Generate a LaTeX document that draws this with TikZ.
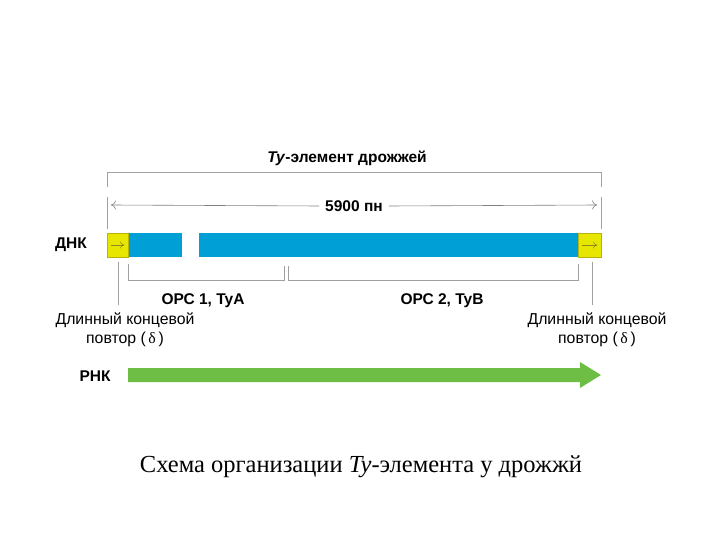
\documentclass[tikz,border=0pt]{standalone}
\usepackage{fontspec}
\setmainfont{Liberation Serif}
\newfontfamily\sansf{Liberation Sans}
\usetikzlibrary{arrows.meta,shapes.arrows}
\definecolor{dnablue}{RGB}{0,160,214}
\definecolor{ltryel}{RGB}{230,230,0}
\definecolor{rnagreen}{RGB}{110,190,70}
\definecolor{linegray}{RGB}{160,160,160}
\tikzset{
  lbl/.style={font=\sansf\fontsize{15.5}{18}\selectfont\bfseries, inner sep=0pt},
  reglbl/.style={font=\sansf\fontsize{15.8}{18}\selectfont, inner sep=0pt, align=center},
  gline/.style={draw=linegray, line width=1pt},
  thin/.style={draw=gray, line width=0.6pt},
  seg/.style={inner sep=0pt, outer sep=0pt, minimum height=24pt, anchor=west},
}
\begin{document}
\begin{tikzpicture}[x=1pt,y=-1pt]
\useasboundingbox (0,0) rectangle (720,540);
% title
\node[lbl] (title) at (347,158) {\textit{Ty}-элемент дрожжей};
% top bracket
\coordinate (bl) at (107,187);
\coordinate (br) at (601,187);
\draw[gline] (bl) -- (107,173) -- (601,173) -- (br);
\coordinate (el1) at (107,197);
\coordinate (el2) at (107,229);
\coordinate (er1) at (601,197);
\coordinate (er2) at (601,229);
\draw[gline] (el1) -- (el2);
\draw[gline] (er1) -- (er2);
% dimension
\node[lbl, fill=white, inner xsep=6pt] (dim) at (354,206) {5900 пн};
\coordinate (dl) at (111,205);
\coordinate (dr) at (597,205);
\draw[thin, -{To[length=5pt,width=9pt]}] (dim.west) -- (dl);
\draw[thin, -{To[length=5pt,width=9pt]}] (dim.east) -- (dr);
% DNA bar
\node[lbl] (dnk) at (71,245) {ДНК};
\node[seg, fill=ltryel, minimum width=21pt] (ltr1) at (107,245) {};
\node[seg, fill=dnablue, minimum width=54pt] (b1) at (128,245) {};
\node[seg, fill=white, minimum width=17pt] (gap) at (182,245) {};
\node[seg, fill=dnablue, minimum width=379pt] (b2) at (199,245) {};
\node[seg, fill=ltryel, minimum width=23pt] (ltr2) at (578,245) {};
\draw[draw=olive!50!ltryel, line width=0.5pt] (ltr1.north west) rectangle (ltr1.south east);
\draw[draw=olive!50!ltryel, line width=0.5pt] (ltr2.north west) rectangle (ltr2.south east);
\draw[draw=olive!80!gray, line width=0.5pt, -{To[length=4pt,width=7pt]}] ([xshift=4pt]ltr1.west) -- ([xshift=-4pt]ltr1.east);
\draw[draw=olive!80!gray, line width=0.5pt, -{To[length=4pt,width=7pt]}] ([xshift=4pt]ltr2.west) -- ([xshift=-4pt]ltr2.east);
% LTR leader lines
\coordinate (l1a) at (118,262);
\coordinate (l1b) at (118,305);
\coordinate (l2a) at (592,262);
\coordinate (l2b) at (592,305);
\draw[gline] (l1a) -- (l1b);
\draw[gline] (l2a) -- (l2b);
% ORF brackets
\draw[gline] (128,264) -- (128,280) -- (284,280) -- (284,266);
\draw[gline] (288,266) -- (288,280) -- (578,280) -- (578,264);
\node[lbl] (orf1) at (203,301) {ОРС 1, TyA};
\node[lbl] (orf2) at (442,301) {ОРС 2, TyB};
% LTR labels
\node[reglbl] (ltrl) at (125,330) {Длинный концевой\\[1pt]повтор (\,{\rmfamily δ}\,)};
\node[reglbl] (ltrr) at (597,330) {Длинный концевой\\[1pt]повтор (\,{\rmfamily δ}\,)};
% RNA
\node[lbl] (rnk) at (95,376) {РНК};
\fill[rnagreen] (128,368) -- (580,368) -- (580,362) -- (601,375) -- (580,388) -- (580,382) -- (128,382) -- cycle;
\coordinate (rnaend) at (601,375);
% caption
\node[font=\fontsize{24.5}{28}\selectfont, inner sep=0pt] (cap) at (361,467) {Схема организации \textit{Ty}-элемента у дрожжй};
\end{tikzpicture}
\end{document}
